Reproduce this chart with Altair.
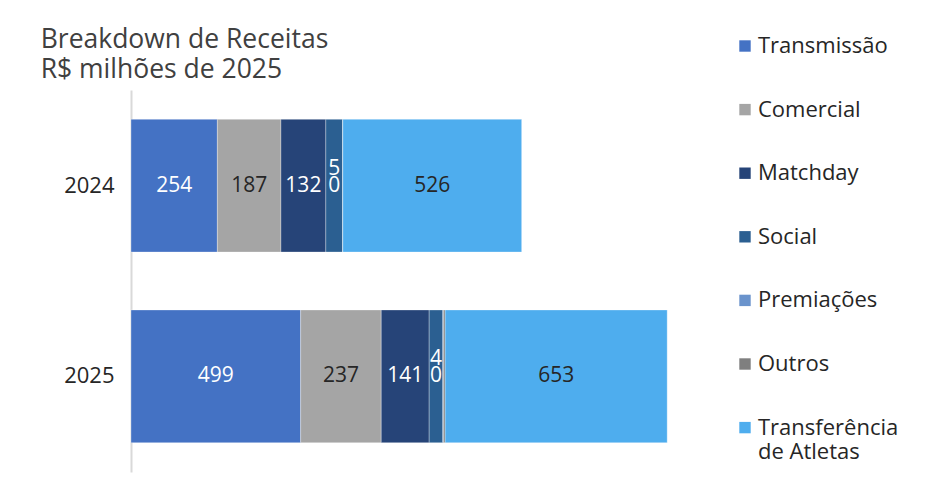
import altair as alt
import pandas as pd

anos = ["2024", "2025"]
categorias = ["Transmissão", "Comercial", "Matchday", "Social", "Premiações", "Outros", "Transferência de Atletas"]
transmissao = [254, 499]
comercial = [187, 237]
matchday = [132, 141]
social = [50, 40]
premiacoes = [0, 2]
outros = [0, 5]
transferencia = [526, 653]
cores = ["#4472C4", "#A5A5A5", "#264478", "#2B5F91", "#6A93CC", "#7F7F7F", "#4EADEE"]
escuros = ["Comercial", "Transferência de Atletas"]

series = [transmissao, comercial, matchday, social, premiacoes, outros, transferencia]
rows = []
for ci, (cat, vals) in enumerate(zip(categorias, series)):
    for ai, ano in enumerate(anos):
        rows.append({"ano": ano, "categoria": cat, "valor": vals[ai], "ordem": ci})
df = pd.DataFrame(rows)

FONT = "Open Sans"

color = alt.Color(
    "categoria:N",
    scale=alt.Scale(domain=categorias, range=cores),
    legend=alt.Legend(
        title=None, orient="none", legendX=603, legendY=-55,
        symbolType="square", symbolSize=130, symbolStrokeWidth=0,
        labelFontSize=22, labelFont=FONT, labelColor="#262626",
        rowPadding=41.6, labelLimit=300, labelOffset=2,
        labelExpr="datum.label == 'Transferência de Atletas' ? ['Transferência', 'de Atletas'] : datum.label",
    ),
)

yenc = alt.Y(
    "ano:N", sort=anos,
    scale=alt.Scale(paddingInner=0.304, paddingOuter=0.154),
    axis=alt.Axis(title=None, ticks=False, labelFontSize=22, labelFont=FONT,
                  labelColor="#262626", labelPadding=17, domainColor="#D9D9D9",
                  domainWidth=2),
)

xscale = alt.Scale(domain=[0, 1700])

bars = alt.Chart(df).mark_bar(stroke="white", strokeWidth=0.5, strokeOpacity=0.6).encode(
    x=alt.X("valor:Q", stack="zero", scale=xscale, axis=None),
    y=yenc,
    color=color,
    order=alt.Order("ordem:Q"),
)

base_txt = alt.Chart(df).transform_stack(
    stack="valor", groupby=["ano"], sort=[alt.SortField("ordem")], as_=["x0", "x1"]
).transform_calculate(
    mid="(datum.x0 + datum.x1) / 2",
    s="'' + datum.valor",
    escuro="indexof(%s, datum.categoria) >= 0" % str(escuros).replace('"', "'"),
).transform_filter(
    "datum.valor >= 10"
).transform_calculate(
    # Social labels are wrapped in the reference: first digit above, rest below
    baixo="datum.categoria == 'Social' ? substring(datum.s, 1) : datum.s",
    cima="datum.categoria == 'Social' ? substring(datum.s, 0, 1) : ''",
)

enc = dict(
    x=alt.X("mid:Q", scale=xscale),
    y=alt.Y("ano:N", sort=anos),
    color=alt.condition("datum.escuro", alt.value("#262626"), alt.value("white")),
)

texto = base_txt.mark_text(fontSize=21, font=FONT, baseline="middle").encode(
    text="baixo:N", **enc
)
texto_cima = base_txt.transform_filter("datum.cima != ''").mark_text(
    fontSize=21, font=FONT, baseline="middle", dy=-17
).encode(text="cima:N", **enc)

chart = alt.layer(bars, texto, texto_cima).resolve_scale(color="independent").properties(
    width=578, height=382,
    autosize=alt.AutoSizeParams(type="none"),
    padding={"left": 123, "top": 82, "right": 225, "bottom": 10},
    title=alt.TitleParams(
        ["Breakdown de Receitas", "R$ milhões de 2025"],
        anchor="start", frame="bounds", fontSize=26.5, font=FONT,
        fontWeight="normal", color="#404040", lineHeight=30, offset=8, dx=-23, dy=56,
    ),
).configure_view(stroke=None)

chart.save("out.html", embed_options={"renderer": "svg", "actions": False})
